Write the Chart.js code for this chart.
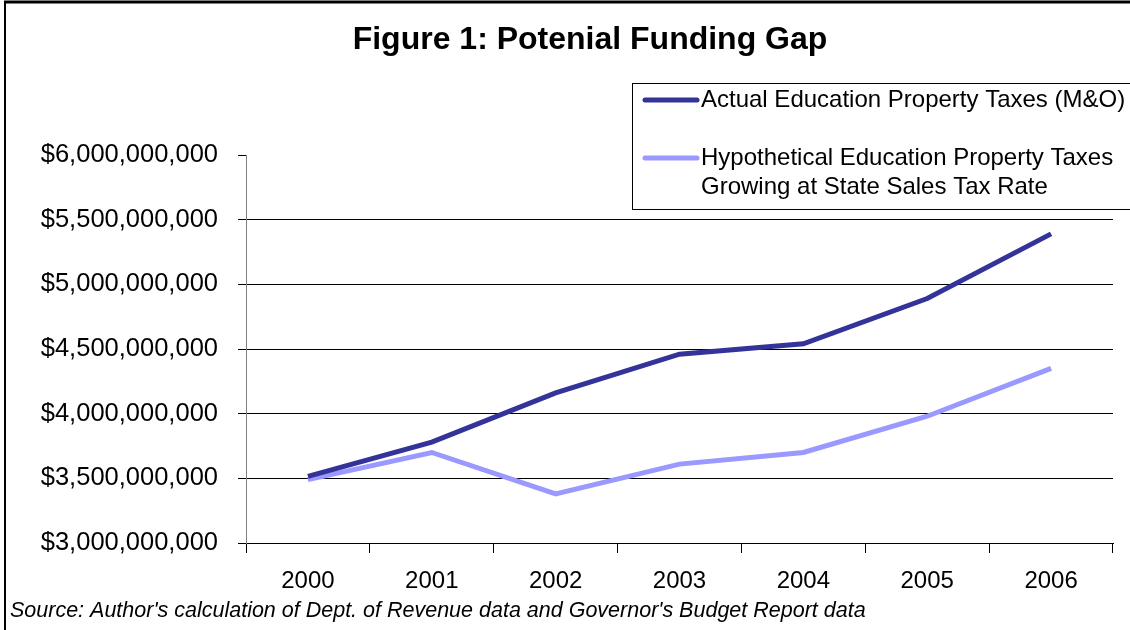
<!DOCTYPE html>
<html>
<head>
<meta charset="utf-8">
<script src="https://cdn.jsdelivr.net/npm/chart.js@4"></script>
<style>
  html, body { margin: 0; padding: 0; background: #fff; }
  #wrap { width: 1130px; height: 630px; position: relative; }
</style>
</head>
<body>
<div id="wrap"><canvas id="lineChart" width="1130" height="630"></canvas></div>
<script>
    // data
    let years = ['2000', '2001', '2002', '2003', '2004', '2005', '2006'];
    let actualTaxes = [3515000000, 3780000000, 4160000000, 4460000000, 4540000000, 4890000000, 5390000000];
    let hypotheticalTaxes = [3490000000, 3700000000, 3380000000, 3610000000, 3700000000, 3980000000, 4350000000];
    let yTicks = [3000000000, 3500000000, 4000000000, 4500000000, 5000000000, 5500000000, 6000000000];

    let chartTitle = 'Figure 1: Potenial Funding Gap';
    let actualLabel = ['Actual Education Property Taxes (M&O)'];
    let hypoLabel = ['Hypothetical Education Property Taxes', 'Growing at State Sales Tax Rate'];
    let sourceNote = "Source: Author's calculation of Dept. of Revenue data and Governor's Budget Report data";

    let actualColor = '#333399',
        hypoColor = '#9999FF';

    let fontName = '"Liberation Sans", Arial, sans-serif';

    function dollars(v) {
        return '$' + Math.round(v).toString().replace(/\B(?=(\d{3})+(?!\d))/g, ',');
    }

    // title, legend box, source line and frame are drawn by hand
    let decorPlugin = {
        id: 'decor',
        afterDraw(chart) {
            let ctx = chart.ctx;
            ctx.save();

            // frame (top + left edges)
            ctx.strokeStyle = '#000';
            ctx.lineWidth = 3;
            ctx.beginPath();
            ctx.moveTo(4, 2);
            ctx.lineTo(1130, 2);
            ctx.stroke();
            ctx.lineWidth = 2;
            ctx.beginPath();
            ctx.moveTo(5, 2);
            ctx.lineTo(5, 630);
            ctx.stroke();

            // title
            ctx.fillStyle = '#000';
            ctx.font = 'bold 32px ' + fontName;
            ctx.textAlign = 'center';
            ctx.textBaseline = 'middle';
            ctx.fillText(chartTitle, 590, 40);

            // legend box
            ctx.fillStyle = '#fff';
            ctx.fillRect(632, 83, 500, 126);
            ctx.strokeStyle = '#000';
            ctx.lineWidth = 1;
            ctx.strokeRect(632.5, 83.5, 510, 126);

            let entries = [
                {color: actualColor, lines: actualLabel, y: 100},
                {color: hypoColor, lines: hypoLabel, y: 158}
            ];
            ctx.font = '24px ' + fontName;
            ctx.textAlign = 'left';
            ctx.lineCap = 'round';
            entries.forEach(e => {
                ctx.strokeStyle = e.color;
                ctx.lineWidth = 5;
                ctx.beginPath();
                ctx.moveTo(645, e.y);
                ctx.lineTo(697, e.y);
                ctx.stroke();
                ctx.fillStyle = '#000';
                e.lines.forEach((t, i) => ctx.fillText(t, 701, e.y + i * 29));
            });

            // source note
            ctx.font = 'italic 21.5px ' + fontName;
            ctx.fillText(sourceNote, 10, 611);

            ctx.restore();
        }
    };

    let lineChartCtx = document.getElementById('lineChart').getContext('2d');
    let lineChart = new Chart(lineChartCtx, {
        type: 'line',
        data: {
            labels: years,
            datasets: [{
                label: actualLabel.join(' '),
                data: actualTaxes,
                borderColor: actualColor,
                backgroundColor: actualColor,
                borderWidth: 5,
                pointRadius: 0,
                tension: 0
            }, {
                label: hypoLabel.join(' '),
                data: hypotheticalTaxes,
                borderColor: hypoColor,
                backgroundColor: hypoColor,
                borderWidth: 5,
                pointRadius: 0,
                tension: 0
            }]
        },
        options: {
            responsive: false,
            animation: false,
            layout: { padding: { left: 0, right: 17, top: 155, bottom: 0 } },
            plugins: {
                legend: { display: false },
                title: { display: false },
                tooltip: { enabled: false }
            },
            scales: {
                x: {
                    offset: true,
                    grid: {
                        offset: true,
                        drawOnChartArea: false,
                        tickLength: 10,
                        color: '#000'
                    },
                    border: { color: '#000', width: 1 },
                    ticks: {
                        color: '#000',
                        font: { family: fontName, size: 24 },
                        padding: 14,
                        maxRotation: 0
                    },
                    afterFit(scale) { scale.height = 87; }
                },
                y: {
                    min: 3000000000,
                    max: 6000000000,
                    afterBuildTicks(scale) {
                        scale.ticks = yTicks.map(v => ({ value: v }));
                    },
                    grid: {
                        color: c => c.tick && c.tick.value === 6000000000 ? 'rgba(0,0,0,0)' : '#000',
                        tickColor: '#000',
                        tickLength: 8
                    },
                    border: { color: '#808080', width: 1 },
                    ticks: {
                        color: '#000',
                        font: { family: fontName, size: 25.5 },
                        padding: 20,
                        callback: v => dollars(v)
                    },
                    afterFit(scale) { scale.width = 246; }
                }
            }
        },
        plugins: [decorPlugin]
    });
</script>
</body>
</html>
